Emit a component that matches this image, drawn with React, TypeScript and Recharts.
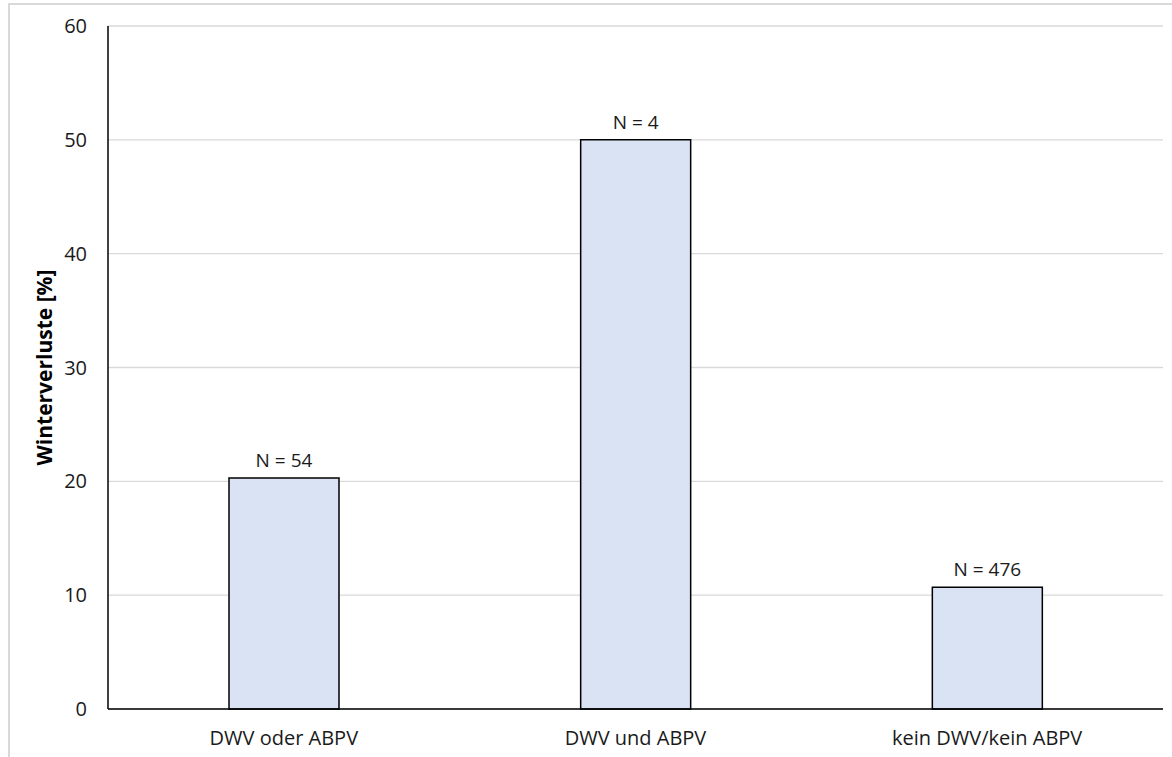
import { BarChart, Bar, XAxis, YAxis, CartesianGrid, LabelList } from "recharts";

const categories = ["DWV oder ABPV", "DWV und ABPV", "kein DWV/kein ABPV"];
const losses = [20.3, 50.0, 10.7];
const sampleSizes = ["N = 54", "N = 4", "N = 476"];
const yTicks = [0, 10, 20, 30, 40, 50, 60];

const data = categories.map((name, i) => ({ name, value: losses[i], n: sampleSizes[i] }));

const font = "'Open Sans', sans-serif";

export default function App() {
  return (
    <div style={{ position: "absolute", left: 0, top: 0, width: 1172, height: 757, background: "#fff", overflow: "hidden", fontFamily: font }}>
      <div style={{ position: "absolute", left: 8, top: 3, width: 1200, height: 800, borderLeft: "2px solid #d9d9d9", borderTop: "2px solid #d9d9d9" }} />
      <div style={{ position: "absolute", left: 0, top: 0 }}>
        <BarChart width={1172} height={757} data={data} margin={{ top: 26, right: 9, bottom: 0, left: 0 }}>
          <CartesianGrid vertical={false} stroke="#d9d9d9" strokeWidth={1.3} />
          <XAxis
            dataKey="name"
            height={48}
            axisLine={{ stroke: "#000", strokeWidth: 1.5 }}
            tickLine={false}
            tickSize={0}
            tickMargin={22}
            tick={{ fill: "#1a1a1a", fontSize: 20, fontFamily: font }}
          />
          <YAxis
            width={108}
            domain={[0, 60]}
            ticks={yTicks}
            axisLine={{ stroke: "#000", strokeWidth: 1.5 }}
            tickLine={false}
            tickSize={0}
            tickMargin={21}
            tick={{ fill: "#1a1a1a", fontSize: 20, fontFamily: font }}
            label={{ value: "Winterverluste [%]", angle: -90, position: "insideLeft", dx: 40, style: { textAnchor: "middle", fill: "#000", fontSize: 21, fontWeight: 700, fontFamily: font } }}
          />
          <Bar dataKey="value" fill="#dae3f3" stroke="#000" strokeWidth={1.5} barSize={110} isAnimationActive={false}>
            <LabelList dataKey="n" position="top" offset={11} style={{ fill: "#1a1a1a", fontSize: 19, fontFamily: font }} />
          </Bar>
        </BarChart>
      </div>
    </div>
  );
}
